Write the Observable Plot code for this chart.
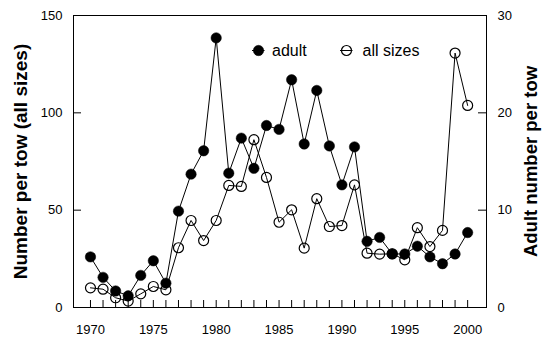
<!DOCTYPE html>
<html><head><meta charset="utf-8">
<script src="https://cdn.jsdelivr.net/npm/d3@7"></script>
<script src="https://cdn.jsdelivr.net/npm/@observablehq/plot@0.6"></script>
<style>
body{margin:0;background:#fff}
#chart{position:relative;width:543px;height:339px}
</style>
</head><body><div id="chart"></div>
<script>
// ---- data ----
const years = [1970,1971,1972,1973,1974,1975,1976,1977,1978,1979,1980,1981,1982,1983,1984,1985,1986,1987,1988,1989,1990,1991,1992,1993,1994,1995,1996,1997,1998,1999,2000];
// all sizes, number per tow (left axis)
const allSizes = [10.1,9.4,5.0,3.3,7.0,10.8,9.1,30.7,44.7,34.4,44.7,62.7,62.2,86.2,66.8,43.8,50.2,30.5,55.9,41.6,42.1,63.0,27.9,27.4,27.6,24.5,41.0,31.3,39.6,130.7,103.8];
// adult number per tow (right axis)
const adult = [5.2,3.1,1.7,1.2,3.3,4.8,2.5,9.9,13.7,16.1,27.7,13.8,17.4,14.3,18.7,18.3,23.4,16.8,22.3,16.6,12.6,16.5,6.8,7.2,5.5,5.5,6.3,5.2,4.5,5.5,7.7];
const xTickLabels = [1970,1975,1980,1985,1990,1995,2000];
const leftTicks = [0,50,100,150];
const rightTicks = [0,10,20,30];
const leftTitle = "Number per tow (all sizes)";
const rightTitle = "Adult number per tow";
const legendLabels = ["adult","all sizes"];

const F = leftTicks[leftTicks.length-1] / rightTicks[rightTicks.length-1]; // right axis -> left axis
const data = years.map((year,i)=>({year, all: allSizes[i], adult: adult[i]}));

const W = 543, H = 339, mL = 73, mR = 57, mT = 15, mB = 32;
const pw = W - mL - mR, ph = H - mT - mB;

const chart = Plot.plot({
  width: W, height: H,
  marginLeft: mL, marginRight: mR, marginTop: mT, marginBottom: mB,
  x: {domain: [1968.65, 2001.5]},
  y: {domain: [0, 150]},
  style: {fontFamily: "'Liberation Sans', Arial, sans-serif", fontSize: "13px", color: "#000", background: "#fff", overflow: "visible"},
  marks: [
    Plot.frame({stroke: "#000", strokeWidth: 1}),
    Plot.axisX(xTickLabels, {tickSize: 0, tickPadding: 17, tickFormat: d => String(d), label: null, fontSize: 13}),
    Plot.tickX(years, {x: d => d, insetTop: ph - 7, stroke: "#000"}),
    Plot.axisY(leftTicks, {anchor: "left", tickSize: 0, tickPadding: 11, tickFormat: d => String(d), label: null, fontSize: 13}),
    Plot.tickY(leftTicks, {y: d => d, insetRight: pw - 8, stroke: "#000"}),
    Plot.axisY(rightTicks.map(d => d * F), {anchor: "right", tickSize: 0, tickPadding: 11, tickFormat: d => String(d / F), label: null, fontSize: 13}),
    Plot.tickY(rightTicks, {y: d => d * F, insetLeft: pw - 8, stroke: "#000"}),
    Plot.line(data, {x: "year", y: "all", stroke: "#000", strokeWidth: 1}),
    Plot.line(data, {x: "year", y: d => d.adult * F, stroke: "#000", strokeWidth: 1}),
    Plot.dot(data, {x: "year", y: "all", r: 5, stroke: "#000", fill: "none", strokeWidth: 1.2}),
    Plot.dot(data, {x: "year", y: d => d.adult * F, r: 5.2, fill: "#000", stroke: "#000", strokeWidth: 0.5}),
    Plot.text([leftTitle], {text: d => d, frameAnchor: "left", textAnchor: "middle", dx: -53, rotate: -90, fontSize: 19, fontWeight: "bold", fill: "#000"}),
    Plot.text([rightTitle], {text: d => d, frameAnchor: "right", textAnchor: "middle", dx: 45, rotate: -90, fontSize: 18.5, fontWeight: "bold", fill: "#000"})
  ]
});
document.getElementById("chart").appendChild(chart);

// legend inside the plot area
const svg = d3.select(chart);
const lg = svg.append("g").attr("font-family", "'Liberation Sans', Arial, sans-serif").attr("font-size", 16).attr("text-anchor", "start");
const items = [
  {label: legendLabels[0], x: 258.5, filled: true},
  {label: legendLabels[1], x: 346.5, filled: false}
];
const ly = 50.5;
items.forEach(it => {
  lg.append("line").attr("x1", it.x - 6.5).attr("x2", it.x + 6).attr("y1", ly).attr("y2", ly).attr("stroke", "#000");
  lg.append("circle").attr("cx", it.x).attr("cy", ly).attr("r", it.filled ? 5.2 : 5)
    .attr("fill", it.filled ? "#000" : "none").attr("stroke", "#000").attr("stroke-width", it.filled ? 0.5 : 1.2);
  lg.append("text").attr("x", it.x + (it.filled ? 13.5 : 16)).attr("y", ly).attr("dy", "0.35em").attr("text-anchor", "start").attr("fill", "#000").text(it.label);
});
</script>
</body></html>
